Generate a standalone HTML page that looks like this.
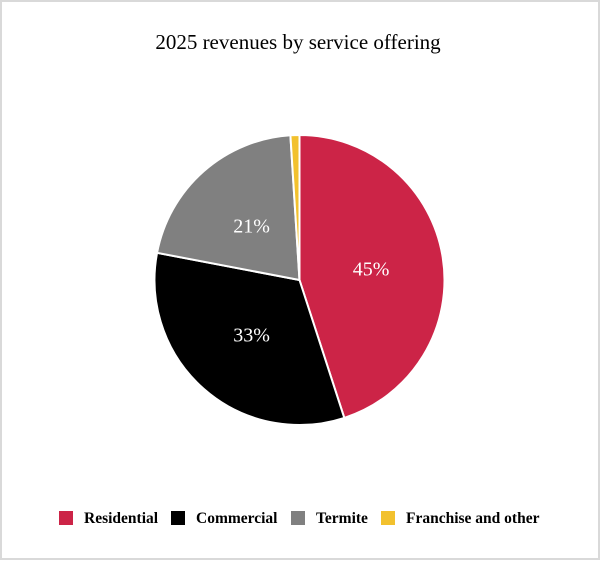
<!DOCTYPE html>
<html><head><meta charset="utf-8"><style>
body{margin:0;background:#fff}
#wrap{position:relative;width:596px;height:556px;border:2px solid #d9d9d9;background:#fff;font-family:"Liberation Serif",serif}
</style></head><body>
<div id="wrap">
<svg id="chart" width="596" height="556">
<text x="296" y="47" text-anchor="middle" font-size="21" font-family="Liberation Serif, serif" fill="#000">2025 revenues by service offering</text>
<g id="slices"></g>
<g id="legend"></g>
</svg>
</div>
<script>
const categories=["Residential","Commercial","Termite","Franchise and other"];
const values=[45,33,21,1];
const labels=["45%","33%","21%",""];
const colors=["#cc2447","#000000","#808080","#f2c12e"];
const NS="http://www.w3.org/2000/svg";
const cx=297.5,cy=278,r=145;
const total=values.reduce((a,b)=>a+b,0);
const g=document.getElementById('slices');
let acc=0;
function pt(a,rr){return [cx+rr*Math.sin(a),cy-rr*Math.cos(a)];}
values.forEach((v,i)=>{
  const a0=acc/total*2*Math.PI; acc+=v; const a1=acc/total*2*Math.PI;
  const p0=pt(a0,r),p1=pt(a1,r);
  const p=document.createElementNS(NS,'path');
  p.setAttribute('d',`M${cx},${cy}L${p0[0]},${p0[1]}A${r},${r} 0 ${a1-a0>Math.PI?1:0} 1 ${p1[0]},${p1[1]}Z`);
  p.setAttribute('fill',colors[i]);p.setAttribute('stroke','#fff');p.setAttribute('stroke-width','2');
  
  
  g.appendChild(p);
  if(labels[i]){
    const m=pt((a0+a1)/2,r*0.5);
    const t=document.createElementNS(NS,'text');
    t.setAttribute('x',m[0]);t.setAttribute('y',m[1]+7);t.setAttribute('text-anchor','middle');
    t.setAttribute('font-size','20');t.setAttribute('fill','#fff');
    t.textContent=labels[i];
    
    
    g.appendChild(t);
  }
});
const lg=document.getElementById('legend');
const sqx=[57,169,289,379];
categories.forEach((c,i)=>{
  const s=document.createElementNS(NS,'rect');
  s.setAttribute('x',sqx[i]);s.setAttribute('y',509);s.setAttribute('width',14);s.setAttribute('height',14);s.setAttribute('fill',colors[i]);
  
  
  lg.appendChild(s);
  const t=document.createElementNS(NS,'text');
  t.setAttribute('x',sqx[i]+25);t.setAttribute('y',521);t.setAttribute('font-size','15.5');t.setAttribute('font-weight','bold');
  t.textContent=c;
  
  
  lg.appendChild(t);
});
</script>
</body></html>
